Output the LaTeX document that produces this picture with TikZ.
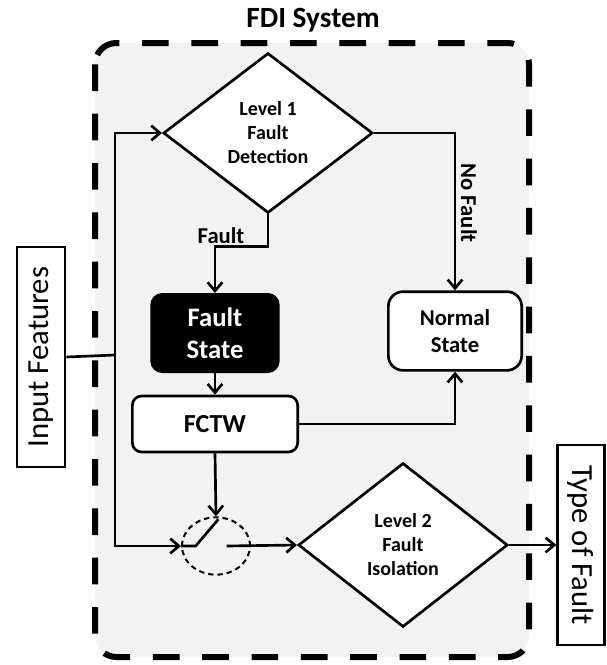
\documentclass[tikz,border=0pt]{standalone}
\usepackage{fontspec}
\setmainfont{Carlito}
\usepackage{tikz}
\usetikzlibrary{shapes, shapes.geometric, arrows.meta, positioning}
\definecolor{framegray}{HTML}{F2F2F2}

\begin{document}
\begin{tikzpicture}[x=0.75pt, y=0.75pt,
            box/.style={draw, rectangle, rounded corners=7pt, fill=white, line width=2pt, align=center, font=\bfseries},
            decision/.style={draw, diamond, fill=white, line width=2pt, inner sep=0pt, align=center, font=\fontsize{15}{18}\selectfont\bfseries},
            io/.style={draw, rectangle, fill=white, line width=2pt, align=center, font=\fontsize{23}{27}\selectfont},
            arrow/.style={-{Straight Barb[length=6.5pt, width=11pt, line width=2pt]}, line width=2pt},
            line/.style={line width=2pt}]

            \useasboundingbox (0,0) rectangle (607,-665);

            % FDI frame
            \draw[line width=4.5pt, dash pattern=on 20pt off 17pt, fill=framegray, rounded corners=16pt] (95,-43) rectangle (529,-657);
            \node[font=\fontsize{22}{26}\selectfont\bfseries] (title) at (313,-20) {FDI System};

            \node[decision, minimum width=157pt, minimum height=120pt] (detect) at (268,-133) {Level 1\\Fault\\Detection};
            \node[box, fill=black, text=white, rounded corners=8pt, minimum width=95pt, minimum height=58pt,
                  font=\fontsize{20}{24}\selectfont\bfseries] (faultstate) at (215,-333) {Fault\\State};
            \node[box, minimum width=124pt, minimum height=42pt, font=\fontsize{19.5}{23}\selectfont\bfseries] (fctw) at (215,-424) {FCTW};
            \node[box, rounded corners=11pt, minimum width=100pt, minimum height=59pt,
                  font=\fontsize{17}{20}\selectfont\bfseries] (normal) at (455,-331) {Normal\\State};
            \node[draw, ellipse, line width=1.5pt, dash pattern=on 4pt off 3pt, inner sep=0pt,
                  minimum width=51pt, minimum height=43pt] (switch) at (216,-546) {};
            \node[decision, minimum width=157pt, minimum height=123pt] (isolate) at (403,-545) {Level 2\\Fault\\Isolation};

            \node[io, rotate=90, minimum width=165pt, minimum height=36pt] (input) at (41,-357) {Input Features};
            \node[io, rotate=-90, minimum width=150pt, minimum height=35pt] (faulttype) at (581,-545) {Type of Fault};

            \coordinate (bus) at (115,-355);
            \coordinate (swin) at ([xshift=11pt]switch.west);
            \coordinate (swtip) at ([xshift=28pt, yshift=20pt]switch.west);
            \coordinate (swout) at ([xshift=8pt]switch.center);

            % connectors
            \draw[line] (input.south) -- (bus);
            \draw[arrow] (bus) |- (detect.west);
            \draw[arrow] (bus) |- (switch.west);
            \draw[arrow] (detect.south) -- ++(0,-32) -| (faultstate.north);
            \draw[arrow] (faultstate) -- (fctw);
            \draw[arrow] (detect.east) -| (normal.north);
            \draw[arrow] (fctw.east) -| (normal.south);
            \draw[arrow] (fctw.south) -- (switch.north);
            \draw[line] (switch.west) -- (swin) -- (swtip);
            \draw[arrow] (swout) -- (isolate.west);
            \draw[arrow] (isolate.east) -- (faulttype.south);

            \node[font=\fontsize{17}{20}\selectfont\bfseries] (faultlbl) at (221,-236) {Fault};
            \node[font=\fontsize{17}{20}\selectfont\bfseries, rotate=-90] (nofaultlbl) at (469,-203) {No Fault};
        \end{tikzpicture}
\end{document}
